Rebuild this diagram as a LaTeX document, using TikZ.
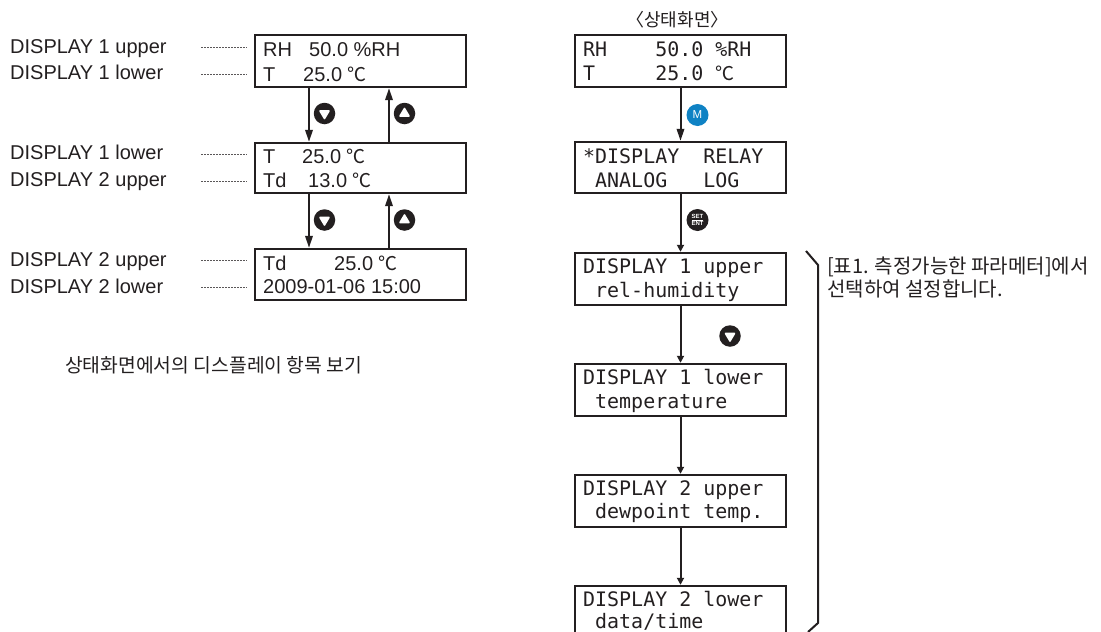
\documentclass[tikz,border=0pt]{standalone}
\usepackage{fontspec}
\setmainfont{Liberation Sans}
\setmonofont{DejaVu Sans Mono}
\newfontfamily\kr{Noto Sans CJK KR}
\usetikzlibrary{arrows.meta}
\definecolor{ink}{HTML}{231F20}
\definecolor{mblue}{HTML}{0F82C4}
\newcommand{\degc}{{\kr\fontsize{19}{20}\selectfont ℃}}
\tikzset{
  lcd/.style={draw=ink,line width=2.4pt,rectangle,inner sep=0pt,minimum width=211pt},
  lab/.style={anchor=base west,inner sep=0pt,text=ink,font=\fontsize{20}{24}\selectfont},
  mono/.style={anchor=base west,inner sep=0pt,text=ink,font=\ttfamily\fontsize{19.95}{24}\selectfont},
  krt/.style={anchor=base west,inner sep=0pt,text=ink,font=\kr\fontsize{19.3}{23}\selectfont},
  lead/.style={draw=ink!75,line width=0.8pt,dash pattern=on 1.6pt off 1.4pt},
  darr/.style={draw=ink,line width=2pt,-{Triangle[length=12pt,width=7.5pt]}},
  rarr/.style={draw=ink,line width=2pt,-{Triangle[length=7pt,width=7pt]}},
  btn/.style={circle,fill=ink,inner sep=0pt,minimum size=21.5pt},
  tri/.style={fill=white,draw=white,line width=1.6pt,line join=round},
}
\newcommand{\dnbtn}[3]{\node[btn] (#1) at (#2,#3) {};
  \path[tri] (#1.center) ++(-4.5,-2.5) -- ++(9,0) -- ++(-4.5,7.5) -- cycle;}
\newcommand{\upbtn}[3]{\node[btn] (#1) at (#2,#3) {};
  \path[tri] (#1.center) ++(-4.5,2.5) -- ++(9,0) -- ++(-4.5,-7.5) -- cycle;}
\newcommand{\leadline}[2]{\coordinate (#1a) at (201,#2); \coordinate (#1b) at (247,#2); \draw[lead] (#1a) -- (#1b);}
\begin{document}
\begin{tikzpicture}[x=1pt,y=-1pt]
\useasboundingbox (0,0) rectangle (1101,632);
\clip (0,0) rectangle (1101,632);
% left labels
\node[lab] (la1) at (10,53) {DISPLAY 1 upper};
\node[lab] (la2) at (10,79) {DISPLAY 1 lower};
\node[lab] (la3) at (10,159) {DISPLAY 1 lower};
\node[lab] (la4) at (10,186) {DISPLAY 2 upper};
\node[lab] (la5) at (10,266) {DISPLAY 2 upper};
\node[lab] (la6) at (10,293) {DISPLAY 2 lower};
\leadline{d1}{47}\leadline{d2}{74}\leadline{d3}{154}\leadline{d4}{181}\leadline{d5}{260}\leadline{d6}{287}
% left boxes
\node[lcd,minimum height=52pt] (L1) at (360.5,61) {};
\node[lcd,minimum height=50pt] (L2) at (360.5,168) {};
\node[lcd,minimum height=51pt] (L3) at (360.5,274.5) {};
\node[lab] (l1a) at (263,56) {RH};
\node[lab] (l1b) at (309,56) {50.0 \%RH};
\node[lab] (l1c) at (263,81) {T};
\node[lab] (l1d) at (303,81) {25.0 \degc};
\node[lab] (l2a) at (263,163) {T};
\node[lab] (l2b) at (302,163) {25.0 \degc};
\node[lab] (l2c) at (263,187) {Td};
\node[lab] (l2d) at (308,187) {13.0 \degc};
\node[lab] (l3a) at (263,270) {Td};
\node[lab] (l3b) at (334,270) {25.0 \degc};
\node[lab] (l3c) at (263,293) {2009-01-06 15:00};
% left connectors
\coordinate (xd) at (309,0); \coordinate (xu) at (389,0);
\draw[darr] (L1.south -| xd) -- (L2.north -| xd);
\draw[darr] (L2.south -| xd) -- (L3.north -| xd);
\draw[darr] (L2.north -| xu) -- (L1.south -| xu);
\draw[darr] (L3.north -| xu) -- (L2.south -| xu);
\dnbtn{b1}{324.5}{113.5}\upbtn{b2}{404.5}{113.5}
\dnbtn{b3}{324.5}{220}\upbtn{b4}{404.5}{220}
% caption
\node[krt] (cap1) at (65,372) {상태화면에서의 디스플레이 항목 보기};
% right column
\node[anchor=base,inner sep=0pt,text=ink,font=\kr\fontsize{18}{21}\selectfont] (cap2) at (677.5,26) {〈상태화면〉};
\node[lcd,minimum height=52pt] (R1) at (680.5,61) {};
\node[lcd,minimum height=51pt] (R2) at (680.5,167.5) {};
\node[lcd,minimum height=52pt] (R3) at (680.5,279) {};
\node[lcd,minimum height=52pt] (R4) at (680.5,390) {};
\node[lcd,minimum height=52pt] (R5) at (680.5,501) {};
\node[lcd,minimum height=52pt] (R6) at (680.5,612) {};
\node[mono] (r1a) at (583,56) {RH~~~~50.0~\%RH};
\node[mono] (r1b) at (583,80) {T~~~~~25.0~\degc};
\node[mono] (r2a) at (583,163) {*DISPLAY~~RELAY};
\node[mono] (r2b) at (583,187) {~ANALOG~~~LOG};
\node[mono] (r3a) at (583,273) {DISPLAY~1~upper};
\node[mono] (r3b) at (583,297) {~rel-humidity};
\node[mono] (r4a) at (583,384) {DISPLAY~1~lower};
\node[mono] (r4b) at (583,408) {~temperature};
\node[mono] (r5a) at (583,495) {DISPLAY~2~upper};
\node[mono] (r5b) at (583,518) {~dewpoint~temp.};
\node[mono] (r6a) at (583,606) {DISPLAY~2~lower};
\node[mono] (r6b) at (583,628.5) {~data/time};
% right connectors
\draw[darr] (R1) -- (R2);
\draw[rarr] (R2) -- (R3);
\draw[rarr] (R3) -- (R4);
\draw[rarr] (R4) -- (R5);
\draw[rarr] (R5) -- (R6);
% buttons
\node[circle,fill=mblue,inner sep=0pt,minimum size=22pt,text=white,font=\fontsize{11.5}{12}\selectfont] (bm) at (697.5,115) {M};
\node[circle,fill=ink,inner sep=0pt,minimum size=22pt,text=white,align=center,font=\bfseries\fontsize{6}{6.8}\selectfont] (bs) at (697.5,220) {SET\\[-0.2pt]ENT};
\draw[white,line width=0.5pt] (692,220) -- (703,220);
\dnbtn{b5}{730}{336}
% bracket
\coordinate (br1) at (806,251); \coordinate (br2) at (818,265); \coordinate (br3) at (818,623); \coordinate (br4) at (808,632);
\draw[ink,line width=2pt] (br1) -- (br2) -- (br3) -- (br4);
\node[krt,font=\kr\fontsize{20}{22}\selectfont] (n1) at (827,273) {[표1. 측정가능한 파라메터]에서};
\node[krt,font=\kr\fontsize{20}{22}\selectfont] (n2) at (827,296) {선택하여 설정합니다.};
\end{tikzpicture}
\end{document}
